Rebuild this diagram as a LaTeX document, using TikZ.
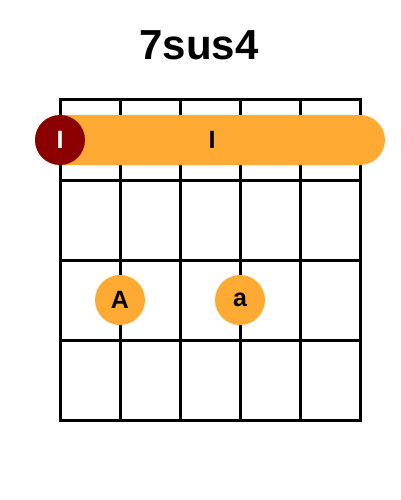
\documentclass[tikz,border=0pt]{standalone}
\usepackage{fontspec}
\setmainfont{Liberation Sans}
\definecolor{dotorange}{HTML}{FFAA33}
\definecolor{rootred}{HTML}{8B0000}
\begin{document}
\begin{tikzpicture}[x=1pt,y=-1pt,
  gridline/.style={line width=3pt,black},
  fingerdot/.style={circle,fill=dotorange,minimum size=50pt,inner sep=0pt,font=\fontsize{25}{25}\selectfont\bfseries},
  rootdot/.style={circle,fill=rootred,minimum size=50pt,inner sep=0pt,text=white,font=\fontsize{25}{25}\selectfont\bfseries},
  barrelabel/.style={font=\fontsize{25}{25}\selectfont\bfseries}]
\useasboundingbox (0,0) rectangle (400,500);
\node[anchor=base,font=\fontsize{42}{42}\selectfont\bfseries] (title) at (199,60) {7sus4};
\foreach \i in {0,...,5} {\draw[gridline] (60+60*\i,100) -- (60+60*\i,420);}
\foreach \j in {0,...,4} {\draw[gridline] (58.5,100+80*\j) -- (361.5,100+80*\j);}
\fill[dotorange,rounded corners=25pt] (35,115) rectangle (385,165);
\node[barrelabel] (barre) at (212,140) {I};
\node[rootdot] (root) at (60,140) {I};
\node[fingerdot] (f1) at (120,300) {A};
\node[fingerdot] (f2) at (240,300) {a};
\end{tikzpicture}
\end{document}
